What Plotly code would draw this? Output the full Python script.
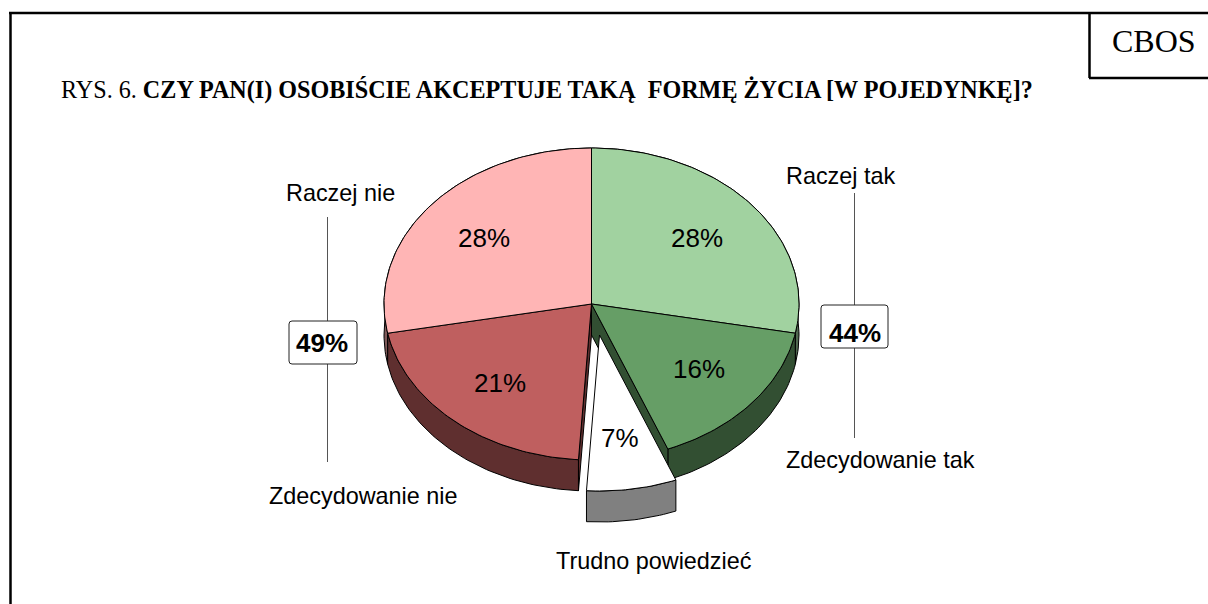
import math
import plotly.graph_objects as go

# ---- data (clockwise from 12 o'clock) ----
categories = ["Raczej tak", "Zdecydowanie tak", "Trudno powiedzieć", "Zdecydowanie nie", "Raczej nie"]
values = [28, 16, 7, 21, 28]
top_colors = ["#A1D2A0", "#669E66", "#FFFFFF", "#BF5F5F", "#FFB5B5"]
wall_colors = ["#506950", "#324F32", "#808080", "#5F2F2F", "#7F5A5A"]
exploded = "Trudno powiedzieć"
title_plain = "RYS. 6. "
title_bold = "CZY PAN(I) OSOBIŚCIE AKCEPTUJE TAKĄ\u00a0 FORMĘ ŻYCIA [W POJEDYNKĘ]?"
source = "CBOS"

# ---- layout of the tilted pie, in page pixels ----
CX, CY, RX, RY, DEPTH = 591.5, 304, 207.5, 156, 31
EXPLODE_DX, EXPLODE_DY = 8, 31
LABEL_POS = {"Raczej tak": (841, 176), "Zdecydowanie tak": (880, 460), "Trudno powiedzieć": (654, 561),
             "Zdecydowanie nie": (363, 496), "Raczej nie": (340.5, 193)}
PCT_POS = {"Raczej tak": (697, 238), "Zdecydowanie tak": (699, 369), "Trudno powiedzieć": (620, 438),
           "Zdecydowanie nie": (500, 383), "Raczej nie": (484, 238)}


def pt(frac, dx=0, dy=0):
    a = 2 * math.pi * frac
    return CX + dx + RX * math.sin(a), CY + dy - RY * math.cos(a)


def arc(f0, f1, dx=0, dy=0):
    n = max(2, int(abs(f1 - f0) * 300))
    return [pt(f0 + (f1 - f0) * i / n, dx, dy) for i in range(n + 1)]


fig = go.Figure()


def poly(points, color):
    fig.add_trace(go.Scatter(
        x=[p[0] for p in points] + [points[0][0]],
        y=[p[1] for p in points] + [points[0][1]],
        mode="lines", fill="toself", fillcolor=color,
        line=dict(color="black", width=1), hoverinfo="skip", showlegend=False))


total = sum(values)
fracs = {}
acc = 0
for c, v in zip(categories, values):
    fracs[c] = (acc / total, (acc + v) / total)
    acc += v

flat = [c for c in categories if c != exploded]
style = {c: (t, w) for c, t, w in zip(categories, top_colors, wall_colors)}

# rim walls, back to front
for c in [categories[4], categories[0], categories[3], categories[1]]:
    f0, f1 = fracs[c]
    poly(arc(f0, f1) + arc(f1, f0, 0, DEPTH), style[c][1])

# inner walls either side of the gap left by the pulled-out slice
for f, c in [(fracs[exploded][0], categories[1]), (fracs[exploded][1], categories[3])]:
    p = pt(f)
    poly([(CX, CY), p, (p[0], p[1] + DEPTH), (CX, CY + DEPTH)], style[c][1])

# top faces
for c in flat:
    f0, f1 = fracs[c]
    poly([(CX, CY)] + arc(f0, f1), style[c][0])

# pulled-out slice
f0, f1 = fracs[exploded]
poly(arc(f0, f1, EXPLODE_DX, EXPLODE_DY) + arc(f1, f0, EXPLODE_DX, EXPLODE_DY + DEPTH), style[exploded][1])
poly([(CX + EXPLODE_DX, CY + EXPLODE_DY)] + arc(f0, f1, EXPLODE_DX, EXPLODE_DY), style[exploded][0])

ann = []
SANS = "Liberation Sans, Arial, sans-serif"
SERIF = "Liberation Serif, Times New Roman, serif"


def text(x, y, s, size, family=SANS, anchor="center"):
    ann.append(dict(x=x, y=y, xref="x", yref="y", text=s, showarrow=False, xanchor=anchor, yanchor="middle",
                    font=dict(family=family, size=size, color="black")))


for c, v in zip(categories, values):
    text(*LABEL_POS[c], c, 23.4)
    text(*PCT_POS[c], f"{v}%", 26)

text(59, 90, f"{title_plain}<b>{title_bold}</b>", 24.15, SERIF, "left")
text(1153.5, 41, source, 32, SERIF)

left_total = values[3] + values[4]
right_total = values[0] + values[1]
text(321.5, 343, f"<b>{left_total}%</b>", 26)
text(854.5, 333, f"<b>{right_total}%</b>", 26)


def rbox(x0, y0, x1, y1, r=3):
    return (f"M{x0+r},{y0} L{x1-r},{y0} Q{x1},{y0} {x1},{y0+r} L{x1},{y1-r} Q{x1},{y1} {x1-r},{y1} "
            f"L{x0+r},{y1} Q{x0},{y1} {x0},{y1-r} L{x0},{y0+r} Q{x0},{y0} {x0+r},{y0} Z")


def seg(x0, y0, x1, y1, color="black", w=2.5):
    return dict(type="line", xref="x", yref="y", x0=x0, y0=y0, x1=x1, y1=y1, line=dict(color=color, width=w))


shapes = [
    seg(10.5, 13, 10.5, 604), seg(9, 13, 1208, 13), seg(1089.5, 13, 1089.5, 78), seg(1089, 78, 1208, 78),
    seg(327.5, 217, 327.5, 462, "#555555", 1), seg(854.5, 193, 854.5, 438, "#555555", 1),
    dict(type="path", path=rbox(289, 321, 357, 364), xref="x", yref="y", fillcolor="white",
         line=dict(color="#222222", width=1)),
    dict(type="path", path=rbox(821, 305, 888, 348), xref="x", yref="y", fillcolor="white",
         line=dict(color="#222222", width=1)),
]

fig.update_layout(
    width=1208, height=604, margin=dict(l=0, r=0, t=0, b=0),
    paper_bgcolor="white", plot_bgcolor="white", showlegend=False,
    xaxis=dict(range=[0, 1208], visible=False, fixedrange=True),
    yaxis=dict(range=[604, 0], visible=False, fixedrange=True),
    annotations=ann, shapes=shapes,
)

fig.write_html("out.html", config={"displayModeBar": False},
               post_script="document.body.style.margin='0';document.body.style.overflow='hidden';")
